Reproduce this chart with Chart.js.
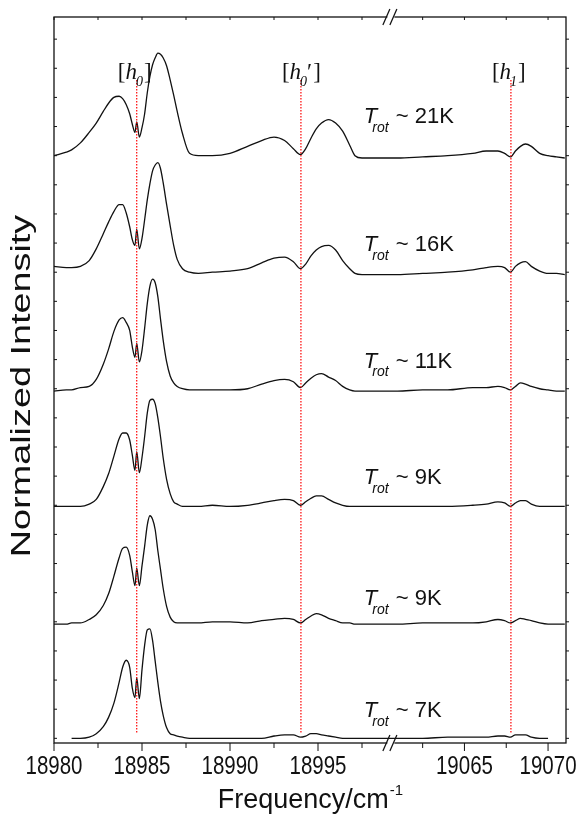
<!DOCTYPE html>
<html>
<head>
<meta charset="utf-8">
<title>Rotational temperature series</title>
<script src="https://cdn.jsdelivr.net/npm/chart.js@4.4.0/dist/chart.umd.min.js"></script>
<style>
  html, body { margin: 0; padding: 0; background: #fff; }
</style>
</head>
<body>
<canvas id="spectra" width="581" height="814"></canvas>
<script>
// shared frequency grid (cm-1); the axis is broken between 18999 and 19061
const frequency = [
  18980.0, 18980.7, 18981.0, 18981.5, 18982.0, 18982.4, 18982.8, 18983.1, 18983.4, 18983.7,
  18983.9, 18984.1, 18984.3, 18984.45, 18984.6, 18984.7, 18984.85, 18985.0, 18985.15, 18985.3,
  18985.45, 18985.6, 18985.75, 18985.9, 18986.05, 18986.2, 18986.4, 18986.6, 18986.8, 18987.0,
  18987.3, 18987.7, 18988.2, 18989.0, 18990.0, 18991.0, 18991.8, 18992.5, 18993.1, 18993.6,
  18994.0, 18994.3, 18994.6, 18994.9, 18995.2, 18995.6, 18996.0, 18996.4, 18996.8, 18997.1,
  18997.5, 18998.2, 18999.1, 19061.0, 19062.5, 19064.0, 19065.5, 19066.3, 19067.0, 19067.4,
  19067.75, 19068.05, 19068.35, 19068.65, 19069.0, 19069.5, 19070.0, 19070.5, 19071.0
];

// normalized intensity of each trace, before stacking
const trace21K = [
  0.00, 0.03, 0.05, 0.11, 0.20, 0.28, 0.38, 0.45, 0.50, 0.51,
  0.49, 0.44, 0.36, 0.27, 0.20, 0.29, 0.16, 0.24, 0.36, 0.54,
  0.68, 0.78, 0.84, 0.88, 0.87, 0.84, 0.77, 0.65, 0.52, 0.38,
  0.19, 0.02, 0.00, 0.00, 0.02, 0.08, 0.13, 0.16, 0.13, 0.06,
  0.01, 0.06, 0.15, 0.23, 0.28, 0.31, 0.28, 0.21, 0.09, 0.00,
  -0.02, -0.02, -0.02, -0.02, -0.01, 0.00, 0.02, 0.04, 0.04, 0.02,
  -0.01, 0.04, 0.08, 0.10, 0.08, 0.02, 0.00, -0.01, -0.02
];
const trace16K = [
  0.05, 0.04, 0.04, 0.05, 0.10, 0.20, 0.33, 0.43, 0.52, 0.58,
  0.58, 0.51, 0.39, 0.28, 0.23, 0.37, 0.20, 0.29, 0.45, 0.62,
  0.76, 0.87, 0.92, 0.94, 0.89, 0.77, 0.58, 0.40, 0.23, 0.11,
  0.03, 0.00, -0.01, 0.00, 0.01, 0.03, 0.08, 0.12, 0.13, 0.09,
  0.03, 0.07, 0.14, 0.19, 0.22, 0.23, 0.19, 0.10, 0.03, -0.01,
  -0.02, -0.02, -0.02, -0.02, -0.01, 0.00, 0.02, 0.04, 0.05, 0.04,
  0.00, 0.05, 0.08, 0.09, 0.05, 0.01, -0.01, -0.01, -0.02
];
const trace11K = [
  -0.02, -0.01, -0.01, 0.01, 0.02, 0.08, 0.21, 0.34, 0.49, 0.59,
  0.61, 0.57, 0.50, 0.36, 0.27, 0.39, 0.23, 0.33, 0.52, 0.73,
  0.88, 0.94, 0.91, 0.79, 0.60, 0.42, 0.23, 0.11, 0.05, 0.02,
  0.00, -0.01, -0.01, -0.01, -0.01, 0.00, 0.04, 0.07, 0.08, 0.06,
  0.01, 0.05, 0.09, 0.12, 0.13, 0.10, 0.07, 0.02, -0.01, -0.02,
  -0.02, -0.02, -0.02, -0.02, -0.01, -0.01, 0.01, 0.01, 0.02, 0.01,
  -0.01, 0.02, 0.05, 0.04, 0.02, 0.00, -0.01, -0.02, -0.02
];
const trace9Ka = [
  -0.01, -0.01, -0.01, -0.01, 0.01, 0.05, 0.16, 0.27, 0.42, 0.57,
  0.62, 0.62, 0.56, 0.43, 0.30, 0.46, 0.28, 0.41, 0.59, 0.79,
  0.90, 0.91, 0.87, 0.75, 0.59, 0.41, 0.22, 0.10, 0.03, 0.01,
  -0.01, -0.01, -0.01, 0.00, -0.01, 0.00, 0.02, 0.04, 0.05, 0.04,
  0.00, 0.03, 0.06, 0.08, 0.08, 0.05, 0.02, 0.00, -0.01, -0.01,
  -0.01, -0.01, -0.01, -0.01, -0.01, -0.01, 0.00, 0.01, 0.03, 0.02,
  -0.01, 0.02, 0.04, 0.04, 0.01, -0.01, -0.01, -0.01, -0.01
];
const trace9Kb = [
  -0.02, -0.02, -0.01, -0.01, 0.02, 0.06, 0.14, 0.24, 0.39, 0.55,
  0.63, 0.64, 0.57, 0.43, 0.31, 0.46, 0.31, 0.48, 0.65, 0.83,
  0.91, 0.88, 0.79, 0.61, 0.45, 0.29, 0.13, 0.04, 0.00, -0.01,
  -0.01, -0.01, -0.01, 0.00, 0.00, -0.01, 0.01, 0.02, 0.03, 0.02,
  -0.01, 0.02, 0.05, 0.07, 0.06, 0.03, 0.01, -0.01, -0.01, -0.02,
  -0.02, -0.02, -0.02, -0.02, -0.01, -0.01, -0.01, 0.00, 0.02, 0.01,
  -0.01, 0.01, 0.03, 0.02, 0.01, -0.01, -0.02, -0.02, -0.02
];
const trace7K = [
  null, null, 0.00, 0.00, 0.01, 0.04, 0.10, 0.18, 0.30, 0.48,
  0.61, 0.67, 0.61, 0.43, 0.35, 0.52, 0.34, 0.59, 0.80, 0.93,
  0.94, 0.84, 0.66, 0.48, 0.32, 0.20, 0.09, 0.04, 0.03, 0.02,
  0.01, 0.00, 0.00, 0.00, 0.00, 0.00, 0.00, 0.02, 0.03, 0.03,
  0.01, 0.02, 0.04, 0.04, 0.03, 0.02, 0.01, 0.00, 0.00, 0.00,
  0.00, 0.00, 0.00, 0.00, 0.00, 0.01, 0.01, 0.01, 0.02, 0.02,
  0.01, 0.03, 0.03, 0.03, 0.01, 0.00, 0.00, null, null
];

const traces = [trace21K, trace16K, trace11K, trace9Ka, trace9Kb, trace7K];
const temperatures = ["21K", "16K", "11K", "9K", "9K", "7K"];
const offsets = [5, 4, 3, 2, 1, 0];

// band positions marked with dotted lines
const markerFreq = [18984.7, 18994.03, 19067.78];
const markerSub = ["0", "0", "1"];
const markerPrime = [false, true, false];

const majorTicks = [18980, 18985, 18990, 18995, 19065, 19070];
const minorTicks = [18982.5, 18987.5, 18992.5, 18997.5, 19062.5, 19067.5];

// broken axis: both pieces are laid onto one linear scale
const BREAK_LO = 18999.14;
const BREAK_HI = 19060.6;
const HI_STRETCH = 0.95;
function toAxis(f) {
  if (f <= BREAK_LO) return f - 18980;
  return (BREAK_LO - 18980) + (f - BREAK_HI) * HI_STRETCH;
}
const X_MAX = 29.09;
const Y_MIN = -0.04, Y_MAX = 6.19;

const INK = "#111";
const SANS = '"Liberation Sans", Arial, sans-serif';
const SERIF = '"Liberation Serif", "Times New Roman", serif';

const datasets = traces.map((vals, i) => ({
  label: temperatures[i],
  data: frequency
    .map((f, k) => (vals[k] == null ? null : { x: toAxis(f), y: vals[k] + offsets[i] }))
    .filter((p) => p !== null),
  borderColor: INK,
  borderWidth: 1.3,
  pointRadius: 0,
  cubicInterpolationMode: "monotone",
  fill: false,
}));

function seg(ctx, x1, y1, x2, y2) {
  ctx.beginPath();
  ctx.moveTo(x1, y1);
  ctx.lineTo(x2, y2);
  ctx.stroke();
}

function drawTempLabel(ctx, x0, yb, temp) {
  ctx.textAlign = "left";
  ctx.textBaseline = "alphabetic";
  ctx.font = "italic 22px " + SANS;
  ctx.fillText("T", x0, yb);
  ctx.font = "italic 14px " + SANS;
  ctx.fillText("rot", x0 + 8.5, yb + 8.5);
  ctx.font = "22px " + SANS;
  ctx.fillText("~ " + temp, x0 + 32, yb);
}

function drawMarkerLabel(ctx, lineX, yb, sub, prime) {
  ctx.textAlign = "left";
  ctx.textBaseline = "alphabetic";
  let x = lineX - 19;
  ctx.font = "23px " + SERIF;
  ctx.fillText("[", x, yb);
  x += ctx.measureText("[").width;
  ctx.font = "italic 23px " + SERIF;
  ctx.fillText("h", x, yb);
  x += ctx.measureText("h").width - 1;
  ctx.font = "italic 14px " + SERIF;
  ctx.fillText(sub, x, yb + 6.5);
  x += ctx.measureText(sub).width;
  ctx.font = "23px " + SERIF;
  if (prime) {
    ctx.fillText("\u2032", x, yb);
    x += ctx.measureText("\u2032").width;
  }
  ctx.fillText("]", x + 1, yb);
}

const decorations = {
  id: "decorations",
  afterDatasetsDraw(chart) {
    const { ctx, chartArea: a, scales } = chart;
    const xs = scales.x, ys = scales.y;
    ctx.save();

    // dotted band markers
    ctx.strokeStyle = "#ff0000";
    ctx.lineWidth = 1.2;
    ctx.setLineDash([1.5, 1.5]);
    const top = ys.getPixelForValue(5.65), bot = ys.getPixelForValue(0.04);
    markerFreq.forEach((f) => {
      const px = xs.getPixelForValue(toAxis(f));
      seg(ctx, px, top, px, bot);
    });
    ctx.setLineDash([]);

    // frame
    ctx.strokeStyle = INK;
    ctx.lineWidth = 1.3;
    ctx.strokeRect(a.left, a.top, a.right - a.left, a.bottom - a.top);

    // x ticks: outward at the bottom, short inward at the top
    ctx.lineWidth = 1;
    majorTicks.forEach((f) => {
      const px = xs.getPixelForValue(toAxis(f));
      seg(ctx, px, a.bottom, px, a.bottom + 8);
      seg(ctx, px, a.top, px, a.top + 3);
    });
    minorTicks.forEach((f) => {
      const px = xs.getPixelForValue(toAxis(f));
      seg(ctx, px, a.bottom, px, a.bottom + 5);
      seg(ctx, px, a.top, px, a.top + 3);
    });

    // y ticks: inward on the left, outward on the right
    for (let v = 0; v <= 6.001; v += 0.25) {
      const py = ys.getPixelForValue(v);
      seg(ctx, a.left, py, a.left + 3, py);
      seg(ctx, a.right, py, a.right + 3, py);
    }

    // axis break marks
    const bx = xs.getPixelForValue(toAxis(BREAK_LO));
    [a.top, a.bottom].forEach((yy) => {
      ctx.fillStyle = "#fff";
      ctx.fillRect(bx - 3.5, yy - 2, 7, 4);
      ctx.strokeStyle = INK;
      ctx.lineWidth = 1.2;
      seg(ctx, bx - 8, yy + 8, bx - 1, yy - 8);
      seg(ctx, bx - 1, yy + 8, bx + 6, yy - 8);
    });

    // tick labels, condensed
    ctx.fillStyle = INK;
    ctx.textAlign = "center";
    ctx.textBaseline = "alphabetic";
    ctx.font = "25px " + SANS;
    majorTicks.forEach((f) => {
      const px = xs.getPixelForValue(toAxis(f));
      ctx.save();
      ctx.translate(px, a.bottom + 31);
      ctx.scale(0.82, 1);
      ctx.fillText(String(f), 0, 0);
      ctx.restore();
    });

    // x title with superscript
    ctx.textAlign = "left";
    ctx.font = "27px " + SANS;
    const main = "Frequency/cm";
    const wMain = ctx.measureText(main).width;
    ctx.font = "15px " + SANS;
    const wSup = ctx.measureText("-1").width;
    const tx = (a.left + a.right) / 2 - (wMain + wSup) / 2;
    ctx.font = "27px " + SANS;
    ctx.fillText(main, tx, a.bottom + 65);
    ctx.font = "15px " + SANS;
    ctx.fillText("-1", tx + wMain + 1, a.bottom + 52);

    // y title, drawn long along the axis
    ctx.save();
    ctx.translate(23, (a.top + a.bottom) / 2 + 6);
    ctx.rotate(-Math.PI / 2);
    ctx.scale(1.4, 1);
    ctx.textAlign = "center";
    ctx.textBaseline = "middle";
    ctx.font = "27px " + SANS;
    ctx.fillText("Normalized Intensity", 0, 0);
    ctx.restore();

    // band labels
    markerFreq.forEach((f, i) => {
      const px = xs.getPixelForValue(toAxis(f));
      drawMarkerLabel(ctx, px, ys.getPixelForValue(5.654), markerSub[i], markerPrime[i]);
    });

    // rotational temperature labels
    const labelLift = [0.28, 0.18, 0.18, 0.18, 0.14, 0.18];
    const lx = xs.getPixelForValue(toAxis(18997.6));
    temperatures.forEach((t, i) => {
      drawTempLabel(ctx, lx, ys.getPixelForValue(offsets[i] + labelLift[i]), t);
    });

    ctx.restore();
  },
};

new Chart(document.getElementById("spectra"), {
  type: "line",
  data: { datasets },
  options: {
    responsive: false,
    animation: false,
    events: [],
    layout: { padding: { top: 17, right: 15, left: 0, bottom: 0 } },
    plugins: { legend: { display: false }, tooltip: { enabled: false } },
    scales: {
      x: {
        type: "linear",
        min: 0,
        max: X_MAX,
        grid: { display: false },
        border: { display: false },
        ticks: { display: false },
        afterFit: (s) => { s.height = 71; },
      },
      y: {
        type: "linear",
        min: Y_MIN,
        max: Y_MAX,
        grid: { display: false },
        border: { display: false },
        ticks: { display: false },
        afterFit: (s) => { s.width = 54; },
      },
    },
  },
  plugins: [decorations],
});
</script>
</body>
</html>
